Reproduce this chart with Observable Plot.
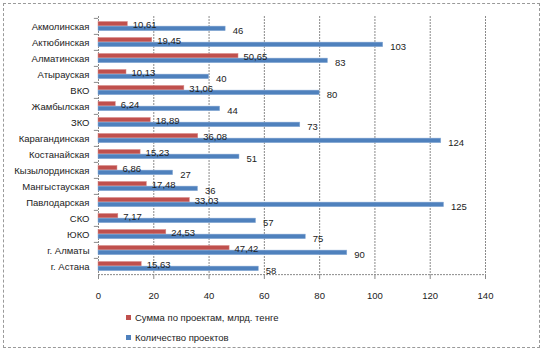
<!DOCTYPE html>
<html><head><meta charset="utf-8">
<script src="https://cdn.jsdelivr.net/npm/d3@7"></script>
<script src="https://cdn.jsdelivr.net/npm/@observablehq/plot@0.6"></script>
<style>
body{margin:0;background:#fff;font-family:"Liberation Sans",Arial,sans-serif;}
#wrap{position:relative;width:545px;height:352px;overflow:hidden;}
#border{position:absolute;left:3px;top:3px;width:535px;height:343px;border:1px dashed #9a9a9a;}
#chart{position:absolute;left:0;top:0;}
.leg{position:absolute;left:126px;font-size:9.5px;color:#222;display:flex;align-items:center;}
.leg i{display:inline-block;width:5px;height:5px;margin-right:4px;}
</style></head>
<body><div id="wrap"><div id="border"></div><div id="chart"></div>
<div class="leg" style="top:312px"><i style="background:#c0504d"></i>Сумма по проектам, млрд. тенге</div>
<div class="leg" style="top:332px"><i style="background:#4f81bd"></i>Количество проектов</div>
</div>
<script>
const categories = ["Акмолинская","Актюбинская","Алматинская","Атырауская","ВКО","Жамбылская","ЗКО","Карагандинская","Костанайская","Кызылординская","Мангыстауская","Павлодарская","СКО","ЮКО","г. Алматы","г. Астана"];
const sums = [10.61,19.45,50.65,10.13,31.06,6.24,18.89,36.08,15.23,6.86,17.48,33.03,7.17,24.53,47.42,15.63];
const counts = [46,103,83,40,80,44,73,124,51,27,36,125,57,75,90,58];
const xTicks = [0,20,40,60,80,100,120,140];
const seriesNames = ["Сумма по проектам, млрд. тенге","Количество проектов"];

const data = categories.map((c,i)=>({cat:c,sum:sums[i],count:counts[i]}));
const fmt = v => String(v).replace(".", ",");
const red = "#c0504d", blue = "#4f81bd";
const bw = 260/16;

const plot = Plot.plot({
  width:545, height:305,
  marginLeft:98, marginRight:60, marginTop:16, marginBottom:29,
  style:{fontFamily:'"Liberation Sans", Arial, sans-serif', fontSize:"9px", color:"#222", background:"transparent"},
  x:{domain:[0,140], ticks:xTicks, label:null},
  y:{domain:categories, padding:0, label:null},
  marks:[
    Plot.gridX(xTicks.slice(1), {stroke:"#8a8a8a", strokeOpacity:1, strokeDasharray:"2,1"}),
    Plot.ruleX([0], {stroke:"#8a8a8a", strokeDasharray:"2,1"}),
    Plot.ruleY(categories, {y:d=>d, x1:-1.5, x2:0, dy:-bw/2, stroke:"#8a8a8a"}),
    Plot.ruleY([categories[categories.length-1]], {y:d=>d, x1:0, x2:140, dy:bw/2, stroke:"#8a8a8a", strokeDasharray:"2,1"}),
    Plot.barX(data, {x:"sum", y:"cat", fill:red, stroke:"#d98a88", strokeWidth:0.5, insetTop:3.5, insetBottom:8.1}),
    Plot.barX(data, {x:"count", y:"cat", fill:blue, stroke:"#8fb0d8", strokeWidth:0.5, insetTop:8.1, insetBottom:3.3}),
    Plot.text(data, {x:"sum", y:"cat", text:d=>fmt(d.sum), textAnchor:"start", dx:5, dy:-1.5, fill:"#222", fontSize:9.5}),
    Plot.text(data, {x:"count", y:"cat", text:d=>fmt(d.count), textAnchor:"start", dx:7, dy:4.5, fill:"#222", fontSize:9.5}),
    Plot.axisY({tickSize:0, tickPadding:9, fontSize:9.5, label:null}),
    Plot.axisX({tickSize:3, tickPadding:13, fontSize:9.5, stroke:"#8a8a8a", label:null})
  ]
});
document.getElementById("chart").appendChild(plot);
</script></body></html>
